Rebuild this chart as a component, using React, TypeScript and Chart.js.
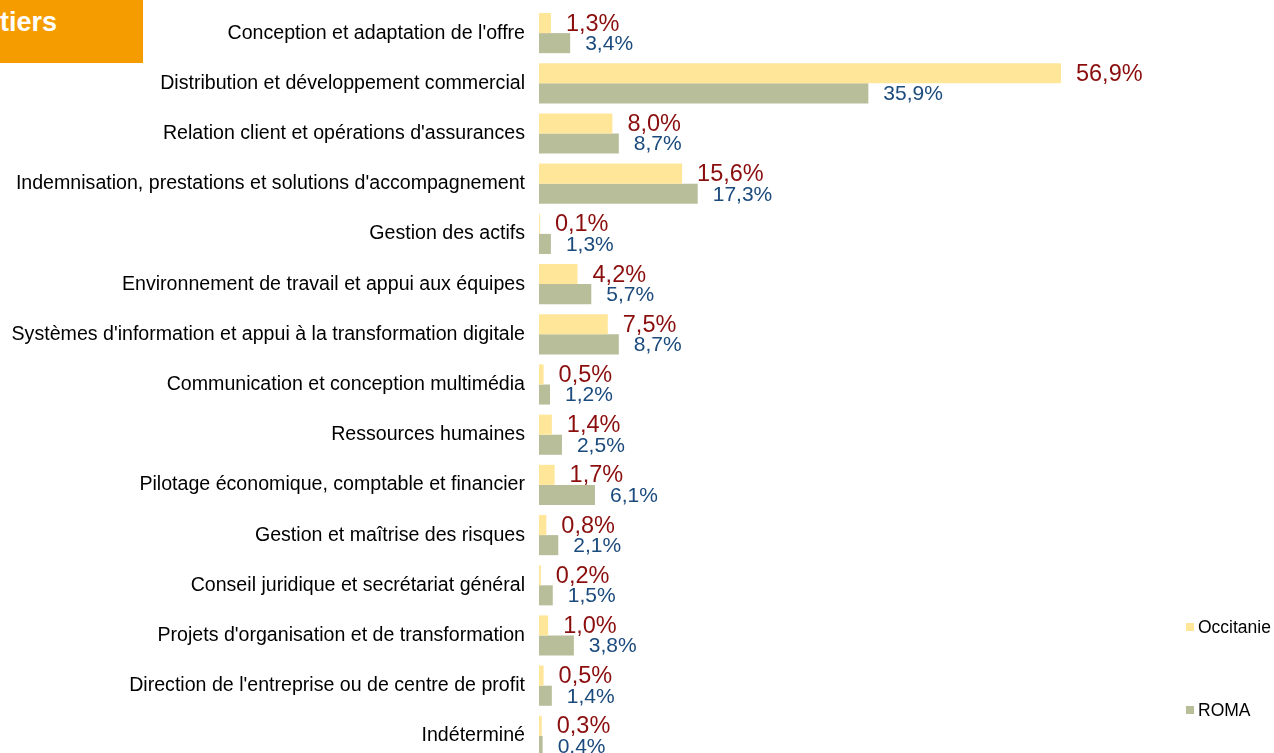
import React, { useEffect, useRef } from "react";
import { Chart, registerables } from "chart.js";

Chart.register(...registerables);

const categories: string[] = [
  "Conception et adaptation de l'offre",
  "Distribution et développement commercial",
  "Relation client et opérations d'assurances",
  "Indemnisation, prestations et solutions d'accompagnement",
  "Gestion des actifs",
  "Environnement de travail et appui aux équipes",
  "Systèmes d'information et appui à la transformation digitale",
  "Communication et conception multimédia",
  "Ressources humaines",
  "Pilotage économique, comptable et financier",
  "Gestion et maîtrise des risques",
  "Conseil juridique et secrétariat général",
  "Projets d'organisation et de transformation",
  "Direction de l'entreprise ou de centre de profit",
  "Indéterminé",
];

const occitanie: number[] = [1.3, 56.9, 8.0, 15.6, 0.1, 4.2, 7.5, 0.5, 1.4, 1.7, 0.8, 0.2, 1.0, 0.5, 0.3];
const roma: number[] = [3.4, 35.9, 8.7, 17.3, 1.3, 5.7, 8.7, 1.2, 2.5, 6.1, 2.1, 1.5, 3.8, 1.4, 0.4];

const seriesNames: string[] = ["Occitanie", "ROMA"];
const seriesColors: string[] = ["#FFE699", "#B8BE9A"];
const labelColors: string[] = ["#8B0E0E", "#1B4A7C"];
const labelSizes: number[] = [23.5, 21];

const fmt = (v: number) => v.toFixed(1).replace(".", ",") + "%";

const valueLabels = {
  id: "valueLabels",
  afterDatasetsDraw(chart: any) {
    const ctx = chart.ctx;
    ctx.save();
    chart.data.datasets.forEach((ds: any, di: number) => {
      const meta = chart.getDatasetMeta(di);
      meta.data.forEach((el: any, i: number) => {
        const p = el.getProps(["x", "y"], true);
        ctx.font = `${labelSizes[di]}px "Liberation Sans", Arial, sans-serif`;
        ctx.fillStyle = labelColors[di];
        ctx.textAlign = "left";
        ctx.textBaseline = "middle";
        ctx.fillText(fmt(ds.data[i]), p.x + 15, p.y + 1);
      });
    });
    ctx.restore();
  },
};

const sideLegend = {
  id: "sideLegend",
  afterDraw(chart: any, _args: any, opts: any) {
    const ctx = chart.ctx;
    ctx.save();
    ctx.font = `${opts.fontSize}px "Liberation Sans", Arial, sans-serif`;
    ctx.textAlign = "left";
    ctx.textBaseline = "middle";
    chart.data.datasets.forEach((ds: any, i: number) => {
      const y = opts.ys[i];
      ctx.fillStyle = ds.backgroundColor;
      ctx.fillRect(opts.x, y - opts.box / 2, opts.box, opts.box);
      ctx.fillStyle = opts.color;
      ctx.fillText(ds.label, opts.x + opts.box + opts.gap, y + 1);
    });
    ctx.restore();
  },
};

export default function App() {
  const ref = useRef<HTMLCanvasElement | null>(null);

  useEffect(() => {
    if (!ref.current) return;
    const chart = new Chart(ref.current, {
      type: "bar",
      data: {
        labels: categories,
        datasets: [
          { label: seriesNames[0], data: occitanie, backgroundColor: seriesColors[0], borderWidth: 0 },
          { label: seriesNames[1], data: roma, backgroundColor: seriesColors[1], borderWidth: 0 },
        ],
      },
      options: {
        indexAxis: "y",
        animation: false,
        responsive: false,
        maintainAspectRatio: false,
        datasets: { bar: { categoryPercentage: 0.8, barPercentage: 1.0 } },
        layout: { padding: { top: 8, bottom: 9, left: 0, right: 0 } },
        scales: {
          x: {
            display: false,
            min: 0,
            max: 80.12,
          },
          y: {
            grid: { display: false, drawTicks: false },
            border: { display: false },
            ticks: {
              color: "#000",
              padding: 14,
              font: { size: 19.6, family: '"Liberation Sans", Arial, sans-serif' },
            },
            afterFit(scale: any) {
              scale.width = 539;
              scale.paddingTop = 0;
              scale.paddingBottom = 0;
            },
          },
        },
        plugins: {
          legend: { display: false },
          tooltip: { enabled: false },
          sideLegend: { x: 1186, ys: [627, 710], box: 8, gap: 4, fontSize: 17.5, color: "#000" },
        } as any,
      },
      plugins: [valueLabels, sideLegend],
    });
    return () => chart.destroy();
  }, []);

  return (
    <div style={{ position: "fixed", left: 0, top: 0, width: 1274, height: 753, overflow: "hidden", background: "#fff" }}>
      <canvas ref={ref} width={1274} height={770} style={{ position: "absolute", left: 0, top: 0, width: 1274, height: 770 }} />
      <div
        style={{
          position: "absolute",
          left: 0,
          top: 0,
          width: 143,
          height: 63,
          background: "#F59C00",
          color: "#fff",
          fontFamily: '"Liberation Sans", Arial, sans-serif',
          fontWeight: "bold",
          fontSize: 27,
          lineHeight: "27px",
          paddingTop: 9,
          boxSizing: "border-box",
          whiteSpace: "nowrap",
        }}
      >
        tiers
      </div>
    </div>
  );
}
